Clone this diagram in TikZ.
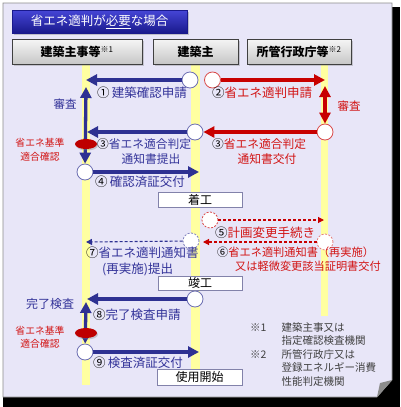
\documentclass[tikz,border=0pt]{standalone}
\usepackage{fontspec}
\setmainfont{Noto Sans CJK JP}
\usetikzlibrary{arrows.meta,shapes.geometric,shadows}
\definecolor{navy}{RGB}{46,49,146}
\definecolor{navytxt}{RGB}{51,51,153}
\definecolor{rd}{RGB}{200,0,0}
\definecolor{rdtxt}{RGB}{210,20,20}
\definecolor{panelc}{RGB}{232,230,248}
\definecolor{lanec}{RGB}{255,255,160}
\definecolor{notec}{RGB}{64,64,64}
\definecolor{ttop}{RGB}{70,70,215}
\definecolor{tbot}{RGB}{25,25,140}
\definecolor{htop}{RGB}{245,245,245}
\definecolor{hbot}{RGB}{198,198,198}
\definecolor{boxb}{RGB}{130,130,170}
\definecolor{ellc}{RGB}{190,0,0}
\begin{document}
\begin{tikzpicture}[x=1pt,y=-1pt,
  fsz/.style={font=\fontsize{#1}{#1}\selectfont},
  hdr/.style={draw=black!75, line width=0.8pt, top color=htop, bottom color=hbot, minimum height=25pt, inner sep=0pt, font=\fontsize{12}{12}\selectfont\bfseries, drop shadow={shadow xshift=1.5pt, shadow yshift=-1.5pt, opacity=0.35}},
  ttl/.style={draw=tbot, top color=ttop, bottom color=tbot, text=white, minimum width=175pt, minimum height=23pt, inner sep=0pt, font=\fontsize{12.5}{12.5}\selectfont, drop shadow={shadow xshift=1.5pt, shadow yshift=-1.5pt, opacity=0.4}},
  circ/.style={circle, draw=#1, fill=white, minimum size=16pt, inner sep=0pt, line width=0.8pt},
  dcirc/.style={circle, draw=#1, dash pattern=on 2pt off 1.5pt, fill=white, minimum size=16pt, inner sep=0pt, line width=0.8pt},
  bluearr/.style={draw=navy, line width=3.3pt, -{Triangle[length=11pt,width=11pt]}},
  redarr/.style={draw=rd, line width=3.3pt, -{Triangle[length=11pt,width=11pt]}},
  dblarrb/.style={draw=navy, line width=3.3pt, {Triangle[length=11pt,width=11pt]}-{Triangle[length=11pt,width=11pt]}},
  dblarrr/.style={draw=rd, line width=3.3pt, {Triangle[length=11pt,width=11pt]}-{Triangle[length=11pt,width=11pt]}},
  dashb/.style={draw=navy, line width=1.1pt, dash pattern=on 3pt off 2pt, -{Triangle[length=6pt,width=6pt]}},
  dashr/.style={draw=rd, line width=1.1pt, dash pattern=on 3pt off 2pt, -{Triangle[length=6pt,width=6pt]}},
  lbl/.style={fsz=#1, inner sep=0pt, anchor=west},
  ctr/.style={fsz=#1, inner sep=0pt},
  evbox/.style={draw=boxb, line width=0.8pt, fill=white, minimum width=84pt, minimum height=15pt, inner sep=0pt, font=\fontsize{12}{12}\selectfont},
  ell/.style={ellipse, fill=ellc, minimum width=22pt, minimum height=10pt, inner sep=0pt, drop shadow={shadow xshift=1pt, shadow yshift=-1.5pt, opacity=0.35}}
]
\useasboundingbox (0,0) rectangle (400,407);
\fill[white] (0,0) rectangle (400,407);
% shadow and panel
\fill[black] (3,7) rectangle (400,407);
\fill[panelc, draw=black!45, line width=0.6pt] (3,3) -- (392,3) -- (392,380) -- (377,397) -- (3,397) -- cycle;
\fill[black!45] (392,380) -- (377,397) -- (380,383) -- cycle;
% lanes
\fill[lanec] (82,65) rectangle (90,385);
\fill[lanec] (191,65) rectangle (200,385);
\fill[lanec] (321,65) rectangle (328,316);
% title and headers
\node[ttl] (title) at (99.5,21.5) {省エネ適判が\underline{必要}な場合};
\node[hdr, minimum width=130pt] (h1) at (77,52) {建築主事等\textsuperscript{\normalfont ※1}};
\node[hdr, minimum width=85pt] (h2) at (195.5,51.5) {建築主};
\node[hdr, minimum width=104pt] (h3) at (299,52) {所管行政庁等\textsuperscript{\normalfont ※2}};
% coordinates
\coordinate (l1) at (86,80);
\coordinate (r2) at (325,80);
\coordinate (r2v) at (325,86);
\coordinate (l3) at (87,132);
\coordinate (lv1) at (86,87);
\coordinate (m4) at (199,172);
\coordinate (r5) at (324,220);
\coordinate (m6) at (203,242);
\coordinate (l7) at (86,242);
\coordinate (l8) at (87,299);
\coordinate (lv2) at (86,302);
\coordinate (m9) at (199,352);
% circles
\node[circ=navy!70] (c1) at (190,80) {};
\node[circ=rd!70] (c2) at (212.5,80) {};
\node[circ=rd!70] (c3r) at (325,132) {};
\node[circ=navy!70] (c3b) at (195,132) {};
\node[circ=navy!70] (c4) at (85,172) {};
\node[dcirc=rd!70] (c5) at (210,220) {};
\node[dcirc=rd!50] (c6) at (325,242) {};
\node[dcirc=navy!60] (c7) at (191,241) {};
\node[circ=navy!70] (c8) at (195,299) {};
\node[circ=navy!70] (c9) at (85,352) {};
% arrows
\draw[bluearr] (c1) -- (l1);
\draw[redarr] (c2) -- (r2);
\draw[dblarrr] (r2v) -- (c3r);
\draw[redarr] (c3r) -- (c3b);
\draw[bluearr] (c3b) -- (l3);
\draw[dblarrb] (lv1) -- (c4);
\node[ell] (e1) at (86,144) {};
\draw[bluearr] (c4) -- (m4);
\draw[dashr] (c5) -- (r5);
\draw[dashr] (c6) -- (m6);
\draw[dashb] (c7) -- (l7);
\draw[bluearr] (c8) -- (l8);
\draw[dblarrb] (lv2) -- (c9);
\node[ell] (e2) at (86,333) {};
\draw[bluearr] (c9) -- (m9);
% event boxes
\node[evbox] (start) at (200,199.5) {着工};
\node[evbox, minimum height=14pt] (done) at (200,283) {竣工};
\node[evbox, minimum height=16pt, minimum width=85pt] (use) at (199.5,377) {使用開始};
% labels
\node[lbl=12.5, text=navytxt] (t1) at (97,93) {\textcolor{black}{①}\,建築確認申請};
\node[lbl=12.5, text=rdtxt] (t2) at (212,93) {\textcolor{black}{②}省エネ適判申請};
\node[ctr=11.5, text=navytxt] (s1) at (65,104) {審査};
\node[ctr=11.5, text=rdtxt] (s2) at (349,106) {審査};
\node[lbl=11.75, text=navytxt] (t3b) at (97,144) {\textcolor{black}{③}省エネ適合判定};
\node[ctr=11.75, text=navytxt] (t3b2) at (151,159) {通知書提出};
\node[lbl=11.75, text=rdtxt] (t3r) at (212,144) {\textcolor{black}{③}省エネ適合判定};
\node[ctr=11.75, text=rdtxt] (t3r2) at (267,159) {通知書交付};
\node[ctr=9.8, text=rdtxt] (k1) at (40,143) {省エネ基準};
\node[ctr=9.8, text=rdtxt] (k2) at (40,157) {適合確認};
\node[lbl=12.5, text=navytxt] (t4) at (95,182) {\textcolor{black}{④}\,確認済証交付};
\node[lbl=12.5, text=rdtxt] (t5) at (215,233) {\textcolor{black}{⑤}計画変更手続き};
\node[lbl=11.2, text=rdtxt] (t6) at (217,252) {\textcolor{black}{⑥}省エネ適判通知書（再実施）};
\node[lbl=11.2, text=rdtxt] (t6b) at (235,266) {又は軽微変更該当証明書交付};
\node[lbl=12.5, text=navytxt] (t7) at (86,253) {\textcolor{black}{⑦}省エネ適判通知書};
\node[lbl=12.5, text=navytxt] (t7b) at (102,269) {(再実施)提出};
\node[ctr=12, text=navytxt] (s3) at (50,304) {完了検査};
\node[lbl=12.5, text=navytxt] (t8) at (93,315) {\textcolor{black}{⑧}完了検査申請};
\node[ctr=9.8, text=rdtxt] (k3) at (40,331) {省エネ基準};
\node[ctr=9.8, text=rdtxt] (k4) at (40,344) {適合確認};
\node[lbl=12.5, text=navytxt] (t9) at (93,363) {\textcolor{black}{⑨}\,検査済証交付};
% notes
\node[anchor=north west, inner sep=0pt, text=notec, font=\fontsize{10.5}{13.5}\selectfont] (notes) at (250,321.5)
  {\begin{tabular}{@{}l@{\hspace{15pt}}l@{}}
   ※1 & 建築主事又は\\
       & 指定確認検査機関\\
   ※2 & 所管行政庁又は\\
       & 登録エネルギー消費\\
       & 性能判定機関
   \end{tabular}};
\end{tikzpicture}
\end{document}
